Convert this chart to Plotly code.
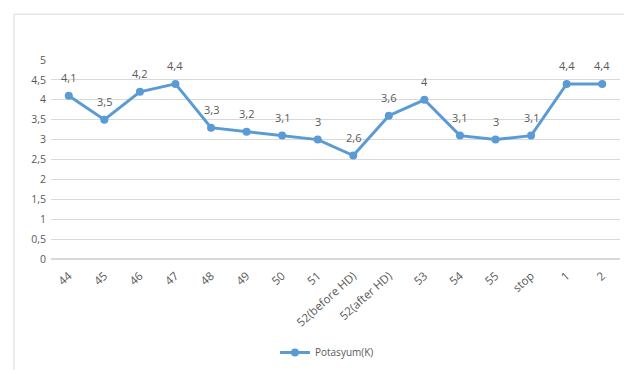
import plotly.graph_objects as go

categories = ["44", "45", "46", "47", "48", "49", "50", "51", "52(before HD)", "52(after HD)",
              "53", "54", "55", "stop", "1", "2"]
potasyum = [4.1, 3.5, 4.2, 4.4, 3.3, 3.2, 3.1, 3.0, 2.6, 3.6, 4.0, 3.1, 3.0, 3.1, 4.4, 4.4]
y_ticks = [0, 0.5, 1, 1.5, 2, 2.5, 3, 3.5, 4, 4.5, 5]
y_tick_labels = ["0", "0,5", "1", "1,5", "2", "2,5", "3", "3,5", "4", "4,5", "5"]

labels = [("%g" % v).replace(".", ",") for v in potasyum]

fig = go.Figure()
fig.add_trace(go.Scatter(
    x=categories, y=potasyum, mode="lines+markers",
    name="Potasyum(K)",
    line=dict(color="#5b9bd5", width=3),
    marker=dict(color="#5b9bd5", size=8),
))
for i, (v, t) in enumerate(zip(potasyum, labels)):
    fig.add_annotation(x=i, y=v, text=t, showarrow=False, yshift=18,
                       font=dict(color="#595959", size=11))

L, R, T, B = 51, 4, 60, 110
W, H = 624, 370
pw, ph = W - L - R, H - T - B
fig.update_layout(
    width=W, height=H,
    margin=dict(l=L, r=R, t=T, b=B),
    paper_bgcolor="white", plot_bgcolor="white",
    font=dict(family="Open Sans, sans-serif", color="#595959", size=10),
    showlegend=True,
    legend=dict(orientation="h", x=0.485, xanchor="center", y=-0.39, yanchor="top",
                font=dict(size=10, color="#595959")),
    xaxis=dict(type="category", tickangle=-42, showgrid=False, showline=False,
               range=[-0.5, len(categories) - 0.5], ticklabelstandoff=7,
               ticks="", automargin=False, tickfont=dict(size=11.5, color="#595959")),
    yaxis=dict(range=[0, 5], tickvals=y_ticks, ticktext=y_tick_labels,
               showgrid=True, gridcolor="#d9d9d9", gridwidth=1, zeroline=True,
               zerolinecolor="#d9d9d9", showline=False, ticks="", automargin=False,
               ticklabelstandoff=4,
               tickfont=dict(size=10.5, color="#595959")),
    shapes=[dict(type="rect", xref="paper", yref="paper",
                 x0=(14 - L) / pw, x1=(640 - L) / pw,
                 y0=-(B + 20) / ph, y1=1 + (T - 14) / ph,
                 line=dict(color="#d9d9d9", width=1), layer="below")],
)

fig.write_html("out.html")
